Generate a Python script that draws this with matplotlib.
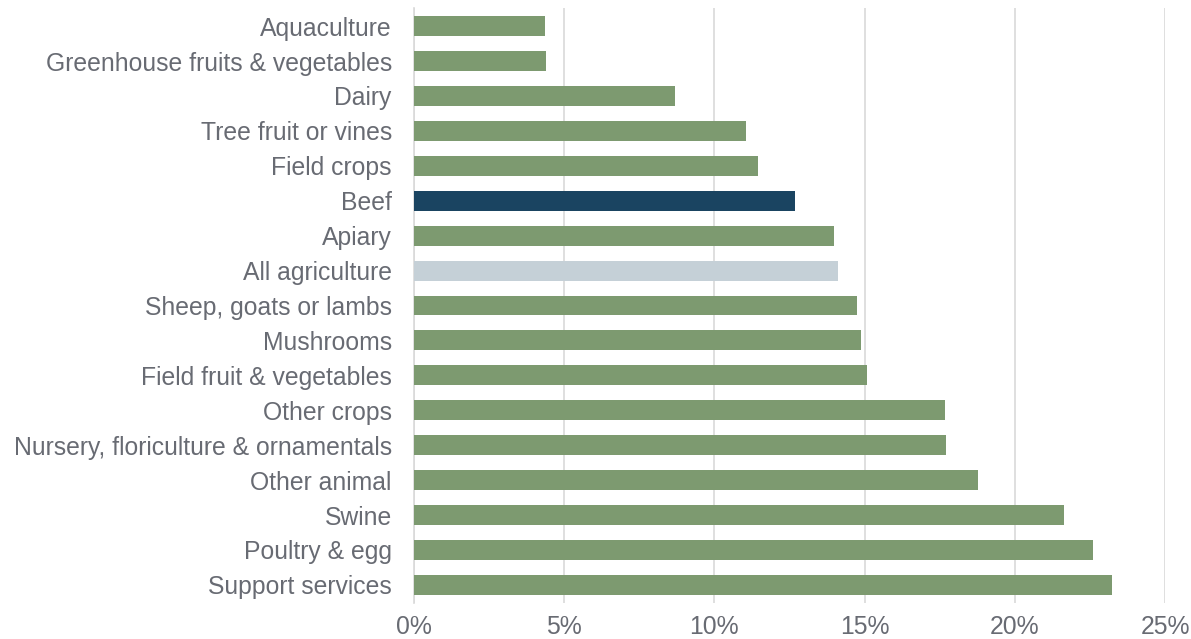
import matplotlib
matplotlib.use("Agg")
import matplotlib.pyplot as plt
from matplotlib.ticker import FuncFormatter

# categories, top to bottom
categories = [
    "Aquaculture", "Greenhouse fruits & vegetables", "Dairy", "Tree fruit or vines",
    "Field crops", "Beef", "Apiary", "All agriculture", "Sheep, goats or lambs",
    "Mushrooms", "Field fruit & vegetables", "Other crops",
    "Nursery, floriculture & ornamentals", "Other animal", "Swine",
    "Poultry & egg", "Support services",
]
values = [4.36, 4.39, 8.68, 11.05, 11.44, 12.68, 13.98, 14.10, 14.74,
          14.87, 15.09, 17.66, 17.70, 18.78, 21.64, 22.60, 23.24]
xticks = [0, 5, 10, 15, 20, 25]

GREEN = "#7d9a70"
NAVY = "#1a4461"
LIGHT = "#c5d0d7"
TEXT = "#686b73"

colors = []
for c in categories:
    if c == "Beef":
        colors.append(NAVY)
    elif c == "All agriculture":
        colors.append(LIGHT)
    else:
        colors.append(GREEN)

plt.rcParams["font.family"] = ["Liberation Sans", "DejaVu Sans"]

fig = plt.figure(figsize=(11.91, 6.39), dpi=100)
ax = fig.add_axes([414 / 1191, 1 - 603 / 639, (1165 - 414) / 1191, 595 / 639])

ypos = list(range(len(categories)))
ax.barh(ypos, values, height=0.57, color=colors, zorder=3)

ax.set_xlim(0, 25)
ax.set_ylim(len(categories) - 0.48, -0.52)
ax.set_xticks(xticks)
ax.xaxis.set_major_formatter(FuncFormatter(lambda v, p: "%d%%" % v))
ax.set_yticks(ypos)
ax.set_yticklabels(categories)

ax.grid(axis="x", color="#d9d9d9", linewidth=1.2, zorder=0)
ax.grid(axis="y", visible=False)
for s in ["top", "right", "bottom"]:
    ax.spines[s].set_visible(False)
ax.spines["left"].set_color("#d9d9d9")
ax.spines["left"].set_linewidth(1.2)

ax.tick_params(axis="y", length=0, pad=16, labelsize=17.8, labelcolor=TEXT)
ax.tick_params(axis="x", length=0, pad=9, labelsize=17.8, labelcolor=TEXT)

fig.savefig("out.png", dpi=100)
